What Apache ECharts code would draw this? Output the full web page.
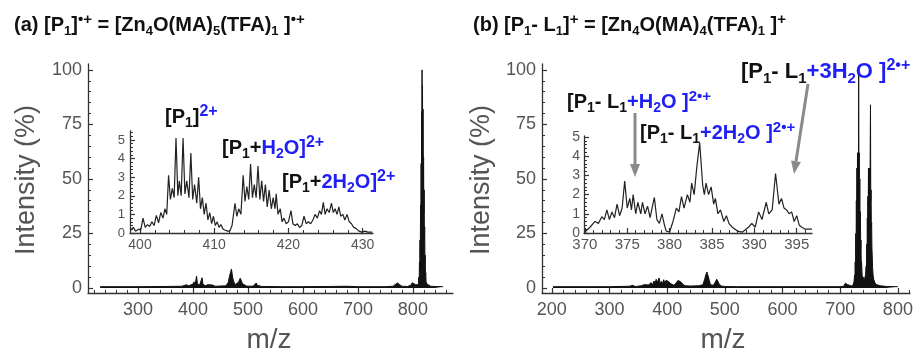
<!DOCTYPE html>
<html><head><meta charset="utf-8">
<script src="https://cdn.jsdelivr.net/npm/echarts@6/dist/echarts.min.js"></script>
<style>html,body{margin:0;padding:0;background:#fff}#c{width:917px;height:351px}</style>
</head><body><div id="c"></div><script>
// ---------- DATA ----------
// Panel (a) full spectrum: [m/z, intensity %]
const spectrumA = [
 [231,0.6],[300,0.6],[350,0.7],[380,0.8],[388,1.5],[392,1.0],[396,1.4],[400,1.8],[402,2.8],[404,1.6],
 [406.5,5.5],[408,2.0],[410,2.6],[412,1.3],[414,2.8],[416.5,4.7],[418,1.8],[420,2.2],[422,1.0],[424,1.6],
 [427,1.5],[430,0.8],[435,1.4],[440,0.8],[450,0.9],[460,1.0],[464,2.5],[467,6.0],[470,8.7],[472,5.0],
 [474,3.0],[477,1.5],[480,1.2],[483,2.8],[486,4.5],[488,3.2],[490,2.0],[493,1.2],[497,0.9],[505,0.8],
 [510,0.9],[513,1.3],[515,2.3],[517,1.2],[520,0.8],[525,0.7],[560,0.6],[600,0.6],[650,0.7],[680,0.8],
 [700,0.6],[750,0.6],[764,0.8],[768,1.6],[772,2.3],[776,1.5],[780,0.8],[790,0.7],[796,1.2],[799,2.4],
 [802,3.2],[805,1.5],[808,1.0],[810,1.5],[811,5],[811.5,3],[812,12],[812.5,8],[813,22],[813.5,14],
 [814,38],[814.5,24],[815,57],[815.5,35],[816,81],[816.5,48],[816.7,100],[817,52],[817.5,93],[818,50],
 [818.5,82],[819,45],[819.5,60],[820,34],[820.5,45],[821,22],[821.5,28],[822,12],[822.5,15],[823,6],
 [823.5,7],[824,3],[825,2],[826,1.5],[827,1.2],[828,1.0],[832,0.8],[840,0.7],[855,0.6]
];
// Panel (b) full spectrum
const spectrumB = [
 [202,0.6],[260,0.6],[300,0.6],[335,0.8],[340,1.2],[345,0.7],[355,1.0],[360,1.5],[363,0.9],[368,1.4],
 [372,2.5],[375,1.5],[377,3.2],[379,2.2],[381,4.0],[383,2.5],[386,4.6],[388,2.0],[390,3.0],[392,2.0],
 [394,3.8],[396,2.2],[398,3.5],[400,3.3],[402,3.0],[404,3.6],[406,2.0],[408,1.5],[412,1.2],[416,2.5],
 [419,3.5],[422,4.0],[425,2.5],[428,1.5],[432,1.0],[440,0.9],[455,1.0],[462,1.5],[465,4.0],[467,6.0],
 [469,7.3],[471,5.5],[473,3.5],[475,1.5],[480,1.2],[483,2.5],[486,4.0],[488,3.0],[490,1.8],[494,0.9],
 [500,0.7],[520,0.6],[600,0.6],[700,0.6],[706,0.8],[709,2.2],[711,3.0],[713,1.5],[716,0.8],[721,0.8],
 [723,2],[724,3],[725,6],[725.5,3],[726,12],[726.5,7],[727,25],[727.5,15],[728,40],[728.5,25],
 [729,55],[729.5,35],[730,62],[730.5,40],[731,55],[731.5,42],[732,98],[732.5,45],[733,62],[733.5,38],
 [734,50],[734.5,28],[735,35],[735.5,18],[736,22],[736.5,10],[737,12],[738,6],[739,4],[740,5],
 [741,3],[742,2.5],[743,3],[744,6],[745,10],[745.5,6],[746,20],[746.5,12],[747,32],[747.5,20],
 [748,42],[748.5,30],[749,55],[749.5,38],[750,50],[750.5,40],[751,55],[751.5,42],[752.5,84],[753,40],
 [753.5,45],[754,28],[754.5,30],[755,18],[755.5,15],[756,10],[757,6],[758,4],[760,2.5],[763,1.5],
 [770,1.0],[780,0.7],[800,0.6]
];
// Inset (a) zoom 398-432
const insetA = [
 [398.7,0.15],[399.1,0.3],[399.4,0.1],[399.8,0.2],[400.1,0.15],[400.4,0.8],[400.7,0.3],[401.0,0.45],
 [401.3,0.35],[401.6,0.6],[401.9,0.4],[402.2,0.95],[402.5,0.55],[402.8,1.1],[403.1,0.8],[403.35,1.3],
 [403.6,1.0],[403.85,3.1],[404.1,1.8],[404.35,2.4],[404.6,1.9],[404.85,5.1],[405.1,2.0],[405.3,2.8],
 [405.55,2.0],[405.8,5.1],[406.05,2.1],[406.3,2.8],[406.6,1.9],[406.85,4.3],[407.1,1.8],[407.35,2.6],
 [407.65,1.6],[407.9,3.0],[408.15,1.3],[408.4,1.9],[408.65,1.0],[408.9,1.6],[409.15,0.7],[409.4,1.1],
 [409.65,0.5],[409.9,0.9],[410.15,0.4],[410.4,0.6],[410.65,0.3],[410.9,0.45],[411.2,0.2],[411.5,0.15],
 [411.8,0.1],[412.1,0.1],[412.4,0.4],[412.8,1.6],[413.05,0.9],[413.3,1.3],[413.6,1.0],[413.9,3.1],
 [414.15,1.7],[414.4,2.5],[414.65,1.8],[414.9,3.7],[415.15,1.9],[415.4,2.6],[415.65,1.9],[415.9,3.6],
 [416.15,1.8],[416.4,2.8],[416.65,1.7],[416.9,2.6],[417.15,1.4],[417.4,2.3],[417.7,1.3],[417.95,1.9],
 [418.2,1.3],[418.35,2.1],[418.6,1.0],[418.9,1.3],[419.15,0.6],[419.4,0.8],[419.7,0.5],[420.0,0.6],
 [420.35,1.2],[420.6,0.5],[420.9,0.4],[421.2,0.5],[421.5,0.3],[421.8,0.4],[422.1,0.9],[422.4,0.5],
 [422.7,0.6],[423.0,0.5],[423.3,0.7],[423.6,1.0],[423.9,0.8],[424.2,1.2],[424.45,1.0],[424.7,1.65],
 [424.95,1.0],[425.2,1.3],[425.5,1.1],[425.8,1.6],[426.05,1.1],[426.3,1.3],[426.55,1.0],[426.8,1.4],
 [427.05,0.9],[427.35,1.0],[427.6,0.7],[427.9,1.0],[428.2,0.6],[428.5,0.5],[428.8,0.3],[429.1,0.25],
 [429.5,0.1],[429.9,0.05],[430.3,0.1],[430.7,0.05],[431.3,0.05]
];
// Inset (b) zoom 370-397
const insetB = [
 [370,0.05],[370.6,0.3],[371.2,0.6],[371.6,0.5],[372,0.85],[372.3,0.7],[372.6,1.2],[372.9,0.7],
 [373.2,1.1],[373.5,0.8],[373.8,1.5],[374.1,0.9],[374.4,1.3],[374.7,2.7],[375.0,1.3],[375.3,1.8],
 [375.5,1.2],[375.7,2.0],[376.0,1.0],[376.25,1.6],[376.6,1.0],[376.8,1.6],[377.1,1.0],[377.4,1.4],
 [377.7,0.8],[378.2,1.85],[378.5,0.7],[378.8,0.5],[379.1,1.0],[379.4,0.4],[379.6,0.1],[380,0.05],
 [380.4,0.6],[380.8,1.3],[381.1,1.1],[381.4,1.9],[381.7,1.3],[382.1,2.0],[382.4,1.6],[382.6,2.6],
 [382.9,2.0],[383.2,3.4],[383.55,4.7],[383.9,2.5],[384.1,2.0],[384.3,2.6],[384.6,2.0],[384.9,2.4],
 [385.2,1.5],[385.4,1.8],[385.7,1.0],[386.0,1.2],[386.4,0.6],[386.7,0.9],[387.0,0.5],[387.4,0.3],
 [388,0.1],[388.6,0.05],[389.3,0.3],[389.7,0.5],[390.1,0.3],[390.5,1.1],[390.9,0.7],[391.4,1.6],
 [391.7,1.0],[392.1,1.2],[392.5,3.1],[392.9,1.5],[393.2,1.8],[393.5,1.3],[393.8,1.2],[394.1,1.0],
 [394.4,1.1],[394.7,0.6],[395.0,0.9],[395.3,0.4],[395.6,0.3],[396,0.2],[396.8,0.2]
];
// Tick values
const mainYTicks = [0,25,50,75,100];
const mainATicks = [300,400,500,600,700,800];
const mainBTicks = [200,300,400,500,600,700,800];
const insetATicks = [400,410,420,430];
const insetBTicks = [370,375,380,385,390,395];
const insetYTicks = [0,1,2,3,4,5];

// ---------- helpers ----------
const FONT = 'Liberation Sans, Arial, Helvetica, sans-serif';
function range(a,b,s,skip){const r=[];for(let v=a;v<=b+1e-9;v+=s){const vv=Math.round(v*1000)/1000;if(!skip||!skip(vv))r.push(vv);}return r;}
function majorAxis(type, gi, min, max, vals, fs, margin){
  return {type:'value', gridIndex:gi, min, max, position: type==='x'?'bottom':'left',
    axisLine:{show:true, onZero:false, lineStyle:{color:'#333', width:1.3}},
    axisTick:{show:true, inside:true, length:5, customValues:vals, lineStyle:{color:'#333', width:1.2}},
    axisLabel:{show:true, customValues:vals, color:'#555', fontSize:fs, fontFamily:FONT, margin},
    splitLine:{show:false}};
}
function minorAxis(type, gi, min, max, vals){
  return {type:'value', gridIndex:gi, min, max, position: type==='x'?'bottom':'left',
    axisLine:{show:false, onZero:false},
    axisTick:{show:true, inside:true, length:3, customValues:vals, lineStyle:{color:'#333', width:1}},
    axisLabel:{show:false}, splitLine:{show:false}};
}
const BLUE = '#1f1ff5';
const rich = (fs, ss, ps) => ({
  n:{fontSize:fs, fontWeight:'bold', fill:'#111', fontFamily:FONT, lineHeight:fs+6},
  s:{fontSize:ss, fontWeight:'bold', fill:'#111', fontFamily:FONT, lineHeight:ss-1, verticalAlign:'bottom'},
  p:{fontSize:ps, fontWeight:'bold', fill:'#111', fontFamily:FONT, lineHeight:ps-1, verticalAlign:'top'},
  bn:{fontSize:fs, fontWeight:'bold', fill:BLUE, fontFamily:FONT, lineHeight:fs+6},
  bs:{fontSize:ss, fontWeight:'bold', fill:BLUE, fontFamily:FONT, lineHeight:ss-1, verticalAlign:'bottom'},
  bp:{fontSize:ps, fontWeight:'bold', fill:BLUE, fontFamily:FONT, lineHeight:ps-1, verticalAlign:'top'}
});
function label(x, y, text, fs, ss, ps){
  return {type:'text', x, y, z:100, style:{text, rich:rich(fs,ss,ps), fill:'#111', align:'left', verticalAlign:'middle'}};
}
function arrow(x1,y1,x2,y2){
  const dx=x2-x1, dy=y2-y1, L=Math.hypot(dx,dy), ux=dx/L, uy=dy/L, h=13, w=5;
  const bx=x2-ux*h, by=y2-uy*h;
  return [
    {type:'line', z:90, shape:{x1,y1,x2:bx,y2:by}, style:{stroke:'#8a8a8a', lineWidth:3}},
    {type:'polygon', z:90, shape:{points:[[x2,y2],[bx-uy*w,by+ux*w],[bx+uy*w,by-ux*w]]}, style:{fill:'#8a8a8a'}}
  ];
}

const chart = echarts.init(document.getElementById('c'), null, {renderer:'canvas'});
const option = {
  animation:false, backgroundColor:'#fff',
  grid:[
    {left:88, top:64, width:365, height:229},
    {left:542, top:64, width:368, height:229},
    {left:130, top:131, width:243, height:102},
    {left:584, top:136, width:228, height:97}
  ],
  xAxis:[
    majorAxis('x',0,209,873,mainATicks,18,8),
    minorAxis('x',0,209,873,range(220,860,20,v=>v%100===0)),
    majorAxis('x',1,183,821,mainBTicks,18,8),
    minorAxis('x',1,183,821,range(200,820,20,v=>v%100===0)),
    majorAxis('x',2,398.65,431.4,insetATicks,14,5),
    minorAxis('x',2,398.65,431.4,range(400,430,2,v=>v%10===0)),
    majorAxis('x',3,369.9,396.8,insetBTicks,15,4),
    minorAxis('x',3,369.9,396.8,range(370,396,1,v=>v%5===0))
  ],
  yAxis:[
    majorAxis('y',0,-2.3,102.7,mainYTicks,18,6),
    minorAxis('y',0,-2.3,102.7,range(0,100,5,v=>v%25===0)),
    majorAxis('y',1,-2.3,102.7,mainYTicks,18,6),
    minorAxis('y',1,-2.3,102.7,range(0,100,5,v=>v%25===0)),
    majorAxis('y',2,0,5.48,insetYTicks,13,5),
    minorAxis('y',2,0,5.48,range(0,5.4,0.2,v=>Math.abs(v-Math.round(v))<1e-6)),
    majorAxis('y',3,0,5.05,insetYTicks,14,4),
    minorAxis('y',3,0,5.05,range(0,5,0.2,v=>Math.abs(v-Math.round(v))<1e-6))
  ],
  series:[
    {type:'line', xAxisIndex:0, yAxisIndex:0, data:spectrumA, showSymbol:false,
     lineStyle:{color:'#111', width:1}, areaStyle:{color:'#111', opacity:1}},
    {type:'line', xAxisIndex:2, yAxisIndex:2, data:spectrumB, showSymbol:false,
     lineStyle:{color:'#111', width:1}, areaStyle:{color:'#111', opacity:1}},
    {type:'line', xAxisIndex:4, yAxisIndex:4, data:insetA, showSymbol:false,
     lineStyle:{color:'#222', width:1.2}},
    {type:'line', xAxisIndex:6, yAxisIndex:6, data:insetB, showSymbol:false,
     lineStyle:{color:'#222', width:1.2}}
  ],
  graphic:[
    label(14, 25, '{n|(a) [P}{s|1}{n|]}{p|•+}{n| = [Zn}{s|4}{n|O(MA)}{s|5}{n|(TFA)}{s|1}{n| ]}{p|•+}', 20, 13, 15),
    label(473, 25, '{n|(b) [P}{s|1}{n|- L}{s|1}{n|]}{p|+}{n| = [Zn}{s|4}{n|O(MA)}{s|4}{n|(TFA)}{s|1}{n| ]}{p|+}', 20, 13, 15),
    label(165, 117, '{n|[P}{s|1}{n|]}{bp|2+}', 20, 14, 16),
    label(222, 148, '{n|[P}{s|1}{n|+}{bn|H}{bs|2}{bn|O]}{bp|2+}', 20, 14, 16),
    label(282, 182, '{n|[P}{s|1}{n|+}{bn|2H}{bs|2}{bn|O]}{bp|2+}', 20, 14, 16),
    label(741, 72, '{n|[P}{s|1}{n|- L}{s|1}{bn|+3H}{bs|2}{bn|O ]}{bp|2•+}', 22, 15, 16),
    label(567, 102, '{n|[P}{s|1}{n|- L}{s|1}{bn|+H}{bs|2}{bn|O ]}{bp|2•+}', 20, 14, 15),
    label(640, 133, '{n|[P}{s|1}{n|- L}{s|1}{bn|+2H}{bs|2}{bn|O ]}{bp|2•+}', 20, 14, 15),
    ...arrow(635,113,635,177),
    ...arrow(808,84,794,174),
    {type:'text', x:27, y:180, rotation:Math.PI/2, z:50, style:{text:'Intensity (%)', fontSize:27, fontFamily:FONT, fill:'#555', align:'center', verticalAlign:'middle'}},
    {type:'text', x:482, y:180, rotation:Math.PI/2, z:50, style:{text:'Intensity (%)', fontSize:27, fontFamily:FONT, fill:'#555', align:'center', verticalAlign:'middle'}},
    {type:'text', x:269, y:340, z:50, style:{text:'m/z', fontSize:28, fontFamily:FONT, fill:'#555', align:'center', verticalAlign:'middle'}},
    {type:'text', x:723, y:340, z:50, style:{text:'m/z', fontSize:28, fontFamily:FONT, fill:'#555', align:'center', verticalAlign:'middle'}}
  ]
};
chart.setOption(option);
</script></body></html>
